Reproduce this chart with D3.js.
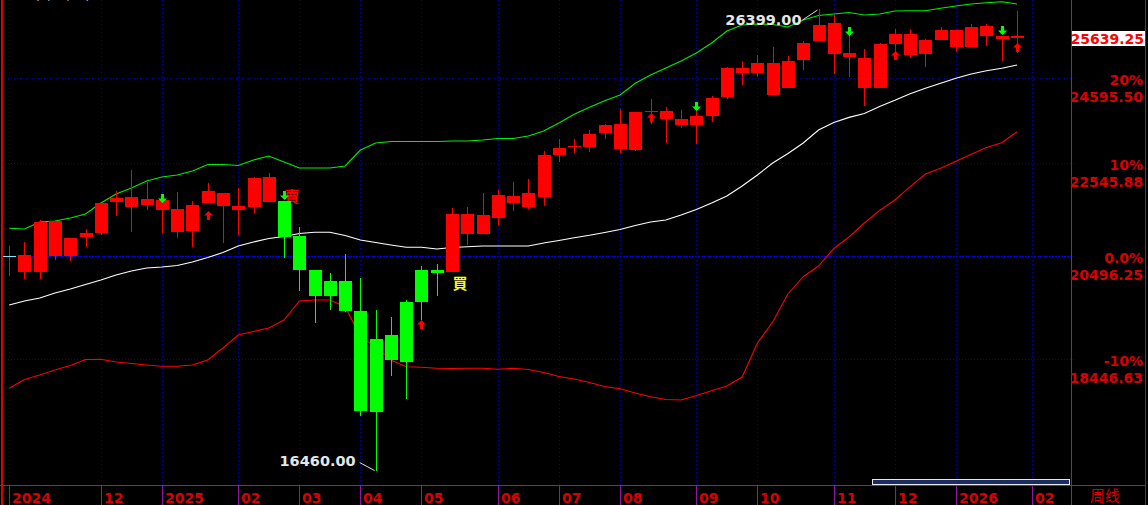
<!DOCTYPE html>
<html><head><meta charset="utf-8">
<script src="https://cdn.jsdelivr.net/npm/d3@7"></script>
<style>html,body{margin:0;padding:0;background:#000;overflow:hidden}svg{display:block}</style>
</head><body><svg id="c" width="1148" height="505"></svg>
<script>
// ---- data (weekly candles, week index 0 = week of 2024-10-21) ----
const opens  = [20496.25,20523,20176,21250,20509,20905,20997,21668,21778,21601,21712,21513,21034,21646,21868,21491,21557,22230,21690,20926,20221,19680,19985,19381,17477,18910,18395,19560,20221,20170,21403,20969,21315,21801,21557,21778,22736,22922,22922,23250,23468,22852,23783,23783,23589,23444,23661,24127,24853,24726,24980,24342,25057,25550,26024,25237,25108,24350,25472,25733,25211,25576,25839,25393,25945,25680,25680];
const highs  = [20713,20805,21272,21250,20884,21077,21646,21913,22389,22116,21712,21891,21690,22096,21868,21981,22230,22321,21690,21120,20221,20149,20544,20046,19400,19262,19599,20294,20336,21535,21557,21868,21936,22116,22184,22829,23111,23111,23320,23468,23832,23759,24077,23880,23807,23807,24151,24878,25032,25185,25393,25159,25550,26399,26237,25707,25339,25498,25865,25865,25602,25918,25839,25997,25997,25680,26346];
const lows   = [20087,20026,20026,20420,20398,20692,20954,21359,21012,21491,20991,20884,20692,21646,20771,20948,21425,21668,20461,19781,19144,19400,19361,17405,16460,18133,17711,19203,19680,20170,20737,20969,21164,21469,21513,21579,22573,22782,22806,23111,22782,22829,23468,23018,23373,22992,23516,24077,24424,24625,24171,24342,24803,25550,24701,24625,23905,24350,25057,25108,24878,25576,25263,25393,25419,25032,25237];
const closes = [20496.25,20176,21235,20509,20884,20991,21646,21763,21557,21734,21491,21012,21601,21913,21579,21579,22207,21668,20905,20221,19680,19985,19381,17495,18833,18433,19560,20221,20159,21403,20969,21381,21823,21646,21868,22736,22899,22946,23226,23444,22875,23759,23759,23589,23444,23661,24102,24853,24726,24980,24171,25032,25498,25971,25211,25134,24350,25472,25733,25185,25576,25839,25393,25918,25680,25602,25639.25];
const upperBand  = [21092,21077,21229,21251,21316,21403,21646,21846,21981,22139,22229,22275,22366,22516,22516,22492,22620,22712,22573,22435,22435,22435,22481,22852,23017,23052,23052,23052,23052,23064,23064,23087,23123,23123,23182,23301,23492,23702,23873,24034,24175,24467,24676,24853,25032,25238,25497,25812,25971,25998,25984,25918,26105,26225,26265,26305,26238,26265,26346,26354,26354,26419,26481,26535,26570,26598,26535];
const middleBand = [19500,19580,19640,19741,19822,19913,20005,20108,20190,20252,20273,20304,20377,20471,20576,20713,20799,20873,20916,20980,21006,21006,20937,20841,20788,20735,20686,20686,20650,20682,20699,20713,20713,20713,20713,20777,20830,20890,20942,21002,21067,21153,21229,21272,21381,21502,21646,21801,22026,22275,22550,22771,23017,23323,23505,23628,23722,23892,24043,24208,24342,24466,24592,24700,24784,24848,24929];
const lowerBand  = [17906,18068,18152,18245,18327,18442,18446,18395,18367,18338,18314,18314,18338,18433,18660,18910,18978,19046,19203,19580,19600,19600,19466,18877,18679,18433,18306,18295,18277,18273,18277,18277,18258,18277,18254,18198,18124,18078,18013,17939,17899,17820,17753,17702,17693,17775,17862,17948,18114,18756,19163,19721,20073,20294,20661,20905,21207,21480,21712,22010,22298,22430,22590,22752,22910,23021,23283];
const basePrice = 20496.25;
const percentLevels = [-0.1, 0, 0.1, 0.2];
const monthTickWeeks  = [0,6,10,15,19,23,27,32,36,40,45,49,54,58,62,67];
const monthTickLabels = ["2024","12","2025","02","03","04","05","06","07","08","09","10","11","12","2026","02"];
const sellSignalWeeks = [18];
const buySignalWeeks  = [29];
const downArrowWeeks  = [10,18,45,55,65];
const downArrowPrices = [21646,21712,23783,25680,25707];
const upArrowWeeks    = [13,27,42,58,66];
const upArrowPrices   = [21469,19203,23728,25289,25498];
const periodLabel = "周线";
const headerText = "(2,20,20)";

// ---- layout ----
const W = 1148, H = 505;
const plotL = 2, plotR = 1071, plotB = 485;
const svg = d3.select("#c");
svg.append("rect").attr("width", W).attr("height", H).attr("fill", "#000");

const x = d3.scaleLinear().domain([-0.4715, 69.535]).range([plotL, plotR]);
const y = d3.scaleLog().domain([16335.5, 26644]).range([478, 0]);
const NUM = "'DejaVu Sans', Verdana, sans-serif";
const AX_RED = "#d80000";

const n = closes.length;
const idx = d3.range(n);
const sellStart = sellSignalWeeks[0], buyAt = buySignalWeeks[0];
const isDown = i => i >= sellStart && i < buyAt;

// grid
const g = svg.append("g").attr("shape-rendering", "crispEdges");
g.selectAll("line.h").data(percentLevels).join("line")
  .attr("x1", plotL).attr("x2", plotR + 3)
  .attr("y1", p => Math.round(y(basePrice * (1 + p))) + 0.5)
  .attr("y2", p => Math.round(y(basePrice * (1 + p))) + 0.5)
  .attr("stroke", p => p === 0 ? "#0000f0" : "#0000b8")
  .attr("stroke-dasharray", p => p === 0 ? "2,1" : "1,2");
g.selectAll("line.v").data(monthTickWeeks).join("line")
  .attr("x1", d => Math.round(x(d)) + 0.5).attr("x2", d => Math.round(x(d)) + 0.5)
  .attr("y1", 0).attr("y2", plotB)
  .attr("stroke", "#0000a8").attr("stroke-dasharray", "1,3");

// bands
const line = arr => d3.line().x((d, i) => x(i)).y(d => y(d))(arr);
svg.append("path").attr("d", line(lowerBand)).attr("fill", "none").attr("stroke", "#ff0000").attr("stroke-width", 1.1);
svg.append("path").attr("d", line(middleBand)).attr("fill", "none").attr("stroke", "#ffffff").attr("stroke-width", 1.1);
svg.append("path").attr("d", line(upperBand)).attr("fill", "none").attr("stroke", "#00ee00").attr("stroke-width", 1.1);

// sell / buy text
svg.selectAll("text.sell").data(sellSignalWeeks).join("text")
  .attr("x", i => x(i) + 8).attr("y", i => y(highs[i]) + 1)
  .attr("text-anchor", "middle").attr("fill", "#ff0000")
  .attr("font-family", "'Noto Sans CJK TC','Noto Sans CJK SC',sans-serif").attr("font-size", 15).attr("font-weight", "bold")
  .text("賣");
svg.selectAll("text.buy").data(buySignalWeeks).join("text")
  .attr("x", i => x(i) + 8).attr("y", i => y(lows[i]) + 17)
  .attr("text-anchor", "middle").attr("fill", "#ffff00")
  .attr("font-family", "'Noto Sans CJK TC','Noto Sans CJK SC',sans-serif").attr("font-size", 15).attr("font-weight", "bold")
  .text("買");

// candles
const cg = svg.append("g").attr("shape-rendering", "crispEdges");
const col = i => isDown(i) ? "#00ff00" : "#ff0000";
cg.selectAll("line.w").data(idx).join("line")
  .attr("x1", i => Math.round(x(i)) + 0.5).attr("x2", i => Math.round(x(i)) + 0.5)
  .attr("y1", i => y(highs[i])).attr("y2", i => y(lows[i]))
  .attr("stroke", col);
cg.selectAll("rect.b").data(idx).join("rect")
  .attr("x", i => Math.round(x(i)) - 6).attr("width", 13)
  .attr("y", i => Math.round(y(Math.max(opens[i], closes[i]))))
  .attr("height", i => Math.max(1, Math.round(y(Math.min(opens[i], closes[i]))) - Math.round(y(Math.max(opens[i], closes[i])))))
  .attr("fill", i => opens[i] === closes[i] ? "#7fe6ff" : col(i));

// arrows
const downPath = "M-1.5,-9L1.5,-9L1.5,-4.5L4.5,-4.5L0,0L-4.5,-4.5L-1.5,-4.5Z";
const upPath = "M-1.5,9L1.5,9L1.5,4.5L4.5,4.5L0,0L-4.5,4.5L-1.5,4.5Z";
svg.selectAll("path.da").data(downArrowWeeks).join("path")
  .attr("transform", (w, k) => `translate(${Math.round(x(w)) + 0.5},${y(downArrowPrices[k])})`)
  .attr("d", downPath).attr("fill", "#00ff00");
svg.selectAll("path.ua").data(upArrowWeeks).join("path")
  .attr("transform", (w, k) => `translate(${Math.round(x(w)) + 0.5},${y(upArrowPrices[k])})`)
  .attr("d", upPath).attr("fill", "#ff0000");

// extreme labels
const hiI = d3.maxIndex(highs), loI = d3.minIndex(lows);
const hx = x(hiI), hy = y(highs[hiI]);
svg.append("line").attr("x1", hx - 16).attr("y1", hy + 11).attr("x2", hx - 1).attr("y2", hy + 1).attr("stroke", "#e0e0e0");
svg.append("text").attr("x", hx - 17).attr("y", hy + 16).attr("text-anchor", "end")
  .attr("fill", "#e6e6e6").attr("font-family", NUM).attr("font-weight", "bold").attr("font-size", 14.5)
  .text(highs[hiI].toFixed(2));
const lx = x(loI), ly = y(lows[loI]);
svg.append("line").attr("x1", lx - 16).attr("y1", ly - 8).attr("x2", lx - 1).attr("y2", ly).attr("stroke", "#e0e0e0");
svg.append("text").attr("x", lx - 20).attr("y", ly - 5).attr("text-anchor", "end")
  .attr("fill", "#e6e6e6").attr("font-family", NUM).attr("font-weight", "bold").attr("font-size", 14.5)
  .text(lows[loI].toFixed(2));

// header fragment (cut by the top edge, as in the source)
svg.append("text").attr("x", 35).attr("y", -0.5).attr("fill", "#c8c8c8")
  .attr("font-family", NUM).attr("font-size", 12).text(headerText);

// frame lines
const fg = svg.append("g").attr("shape-rendering", "crispEdges");
fg.append("line").attr("x1", 1.5).attr("x2", 1.5).attr("y1", 0).attr("y2", H).attr("stroke", "#e00000").attr("stroke-width", 2);
fg.append("line").attr("x1", 1145.5).attr("x2", 1145.5).attr("y1", 0).attr("y2", H).attr("stroke", "#e00000");
fg.append("line").attr("x1", plotR + 0.5).attr("x2", plotR + 0.5).attr("y1", 0).attr("y2", H).attr("stroke", "#8a1a9e");
fg.append("line").attr("x1", 0).attr("x2", 1145).attr("y1", plotB + 0.5).attr("y2", plotB + 0.5).attr("stroke", "#8a1a9e");

// bottom month axis
fg.selectAll("line.mt").data(monthTickWeeks).join("line")
  .attr("x1", d => Math.round(x(d)) + 0.5).attr("x2", d => Math.round(x(d)) + 0.5)
  .attr("y1", plotB).attr("y2", H).attr("stroke", "#8a1a9e");
svg.selectAll("text.ml").data(monthTickWeeks).join("text")
  .attr("x", d => Math.round(x(d)) + 3).attr("y", 503)
  .attr("fill", AX_RED).attr("font-family", NUM).attr("font-weight", "bold").attr("font-size", 14)
  .text((d, k) => monthTickLabels[k]);
svg.append("text").attr("x", 1090).attr("y", 501).attr("fill", AX_RED)
  .attr("font-family", "'Noto Sans CJK SC',sans-serif").attr("font-size", 15).text(periodLabel);

// scrollbar
svg.append("rect").attr("x", 872.5).attr("y", 479.5).attr("width", 197).attr("height", 5)
  .attr("fill", "#1a2c60").attr("stroke", "#e8e8e8").attr("shape-rendering", "crispEdges");

// right axis
const ra = svg.selectAll("g.ra").data(percentLevels).join("g");
ra.append("text").attr("x", 1143).attr("y", p => y(basePrice * (1 + p)) + 6.5)
  .attr("text-anchor", "end").attr("fill", AX_RED).attr("font-family", NUM).attr("font-weight", "bold").attr("font-size", 14)
  .text(p => p === 0 ? "0.0%" : Math.round(p * 100) + "%");
ra.append("text").attr("x", 1143).attr("y", p => y(basePrice * (1 + p)) + 23.4)
  .attr("text-anchor", "end").attr("fill", AX_RED).attr("font-family", NUM).attr("font-weight", "bold").attr("font-size", 14)
  .text(p => (basePrice * (1 + p)).toFixed(2));

// last price box
const lastY = y(closes[n - 1]);
svg.append("rect").attr("x", 1072).attr("y", Math.round(lastY) - 7).attr("width", 73).attr("height", 15).attr("fill", "#ffffff");
svg.append("text").attr("x", 1144).attr("y", lastY + 6)
  .attr("text-anchor", "end").attr("fill", "#ff0000").attr("font-family", NUM).attr("font-weight", "bold").attr("font-size", 14)
  .text(closes[n - 1].toFixed(2));
</script></body></html>
